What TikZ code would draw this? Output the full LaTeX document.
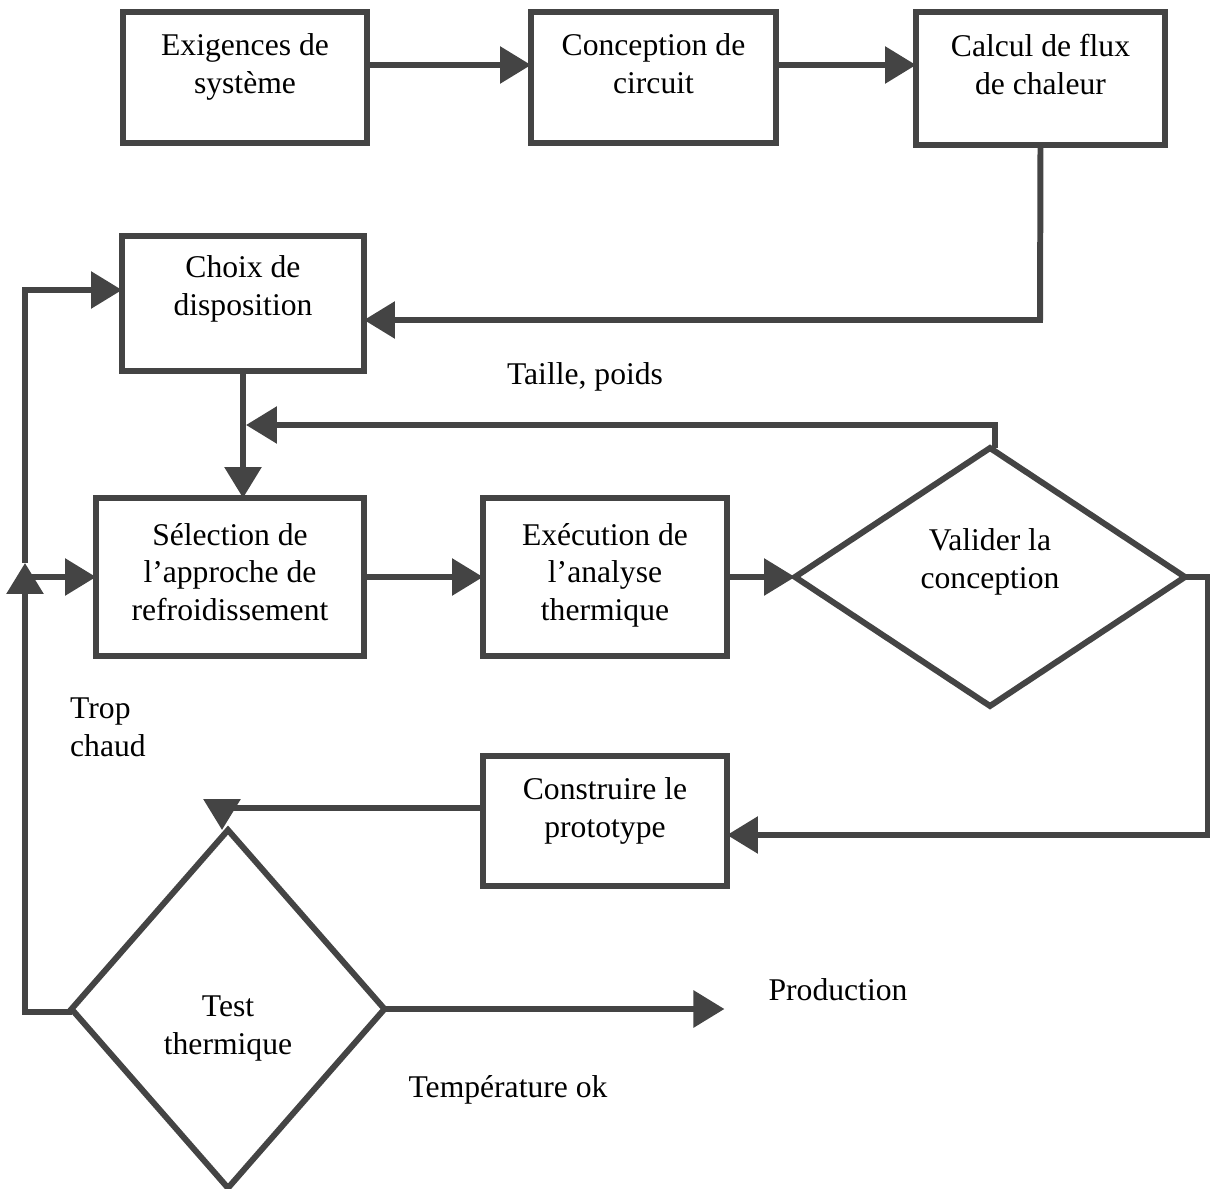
\documentclass[tikz,border=0pt]{standalone}
\usepackage{fontspec}
\setmainfont{Liberation Serif}
\usetikzlibrary{arrows.meta,shapes.geometric}
\definecolor{traitgris}{RGB}{68,68,68}
\begin{document}
\begin{tikzpicture}[x=0.02cm,y=-0.02cm,
    font=\fontsize{18}{21.6}\selectfont,
    boite/.style={draw=traitgris,line width=3.4pt,align=center,outer sep=0pt,inner sep=2pt},
    losange/.style={draw=traitgris,line width=3.4pt,diamond,align=center,outer sep=0pt,inner sep=0pt},
    fl/.style={draw=traitgris,line width=3.4pt,-{Triangle[length=0.62cm,width=0.72cm]}},
    tr/.style={draw=traitgris,line width=3.4pt}]
  \useasboundingbox (0,0) rectangle (1210,1189);
  % boites du haut
  \node[boite,minimum width=4.88cm,minimum height=2.62cm,text depth=0.55cm] (exig) at (245,77.5) {Exigences de\\système};
  \node[boite,minimum width=4.9cm,minimum height=2.62cm,text depth=0.55cm] (conc) at (653.5,77.5) {Conception de\\circuit};
  \node[boite,minimum width=4.98cm,minimum height=2.66cm,text depth=0.55cm] (calc) at (1040.5,78.5) {Calcul de flux\\de chaleur};
  \node[boite,minimum width=4.84cm,minimum height=2.7cm,text depth=0.7cm] (choix) at (243,303.5) {Choix de\\disposition};
  % rangee du milieu
  \node[boite,minimum width=5.36cm,minimum height=3.16cm,text depth=0.2cm] (sel) at (230,577) {Sélection de\\l’approche de\\refroidissement};
  \node[boite,minimum width=4.88cm,minimum height=3.16cm,text depth=0.2cm] (exe) at (605,577) {Exécution de\\l’analyse\\thermique};
  \node[losange,minimum width=7.8cm,minimum height=5.16cm,text depth=0.74cm] (val) at (990,577) {Valider la\\conception};
  \node[boite,minimum width=4.88cm,minimum height=2.6cm,text depth=0.55cm] (cons) at (605,821) {Construire le\\prototype};
  \node[losange,minimum width=6.26cm,minimum height=7.16cm,text height=1.95cm] (test) at (228,1009) {Test\\thermique};
  % libelles
  \node (taille) at (585,377) {Taille, poids};
  \node[align=left,anchor=west] (trop) at (64,727) {Trop\\chaud};
  \node (prod) at (838,990) {Production};
  \node (tempok) at (508,1090) {Température ok};
  % liaisons
  \coordinate (c0) at (0,65);
  \coordinate (c1) at (1040,320);
  \coordinate (c2) at (995,425);
  \coordinate (c3) at (1208,835);
  \coordinate (c4) at (222,808);
  \coordinate (c5) at (25,1012);
  \coordinate (c6) at (25,563);
  \coordinate (c7) at (25,290);
  \coordinate (c8) at (25,577);
  \draw[fl] (exig.east |- c0) -- (conc.west |- c0);
  \draw[fl] (conc.east |- c0) -- (calc.west |- c0);
  \draw[fl] (calc.south) -- (c1) -- (choix.east |- c1);
  \draw[fl] (choix.south) -- (choix.south |- sel.north);
  \draw[fl] (c2 |- val.north) -- (c2) -- ([xshift=0.06cm]choix.south |- c2);
  \draw[fl] (sel.east) -- (exe.west);
  \draw[fl] (exe.east) -- (val.west);
  \draw[fl] (val.east) -- (val.east -| c3) -- (c3) -- (cons.east |- c3);
  \draw[fl] (cons.west |- c4) -- (c4) -- (c4 |- test.north);
  \draw[fl] (test.west |- c5) -- (c5) -- (c6);
  \draw[fl] (c6) -- (c7) -- (choix.west |- c7);
  \draw[fl] (c8) -- (sel.west);
  \draw[fl] (test.east) -- ++(340,0);
\end{tikzpicture}
\end{document}
